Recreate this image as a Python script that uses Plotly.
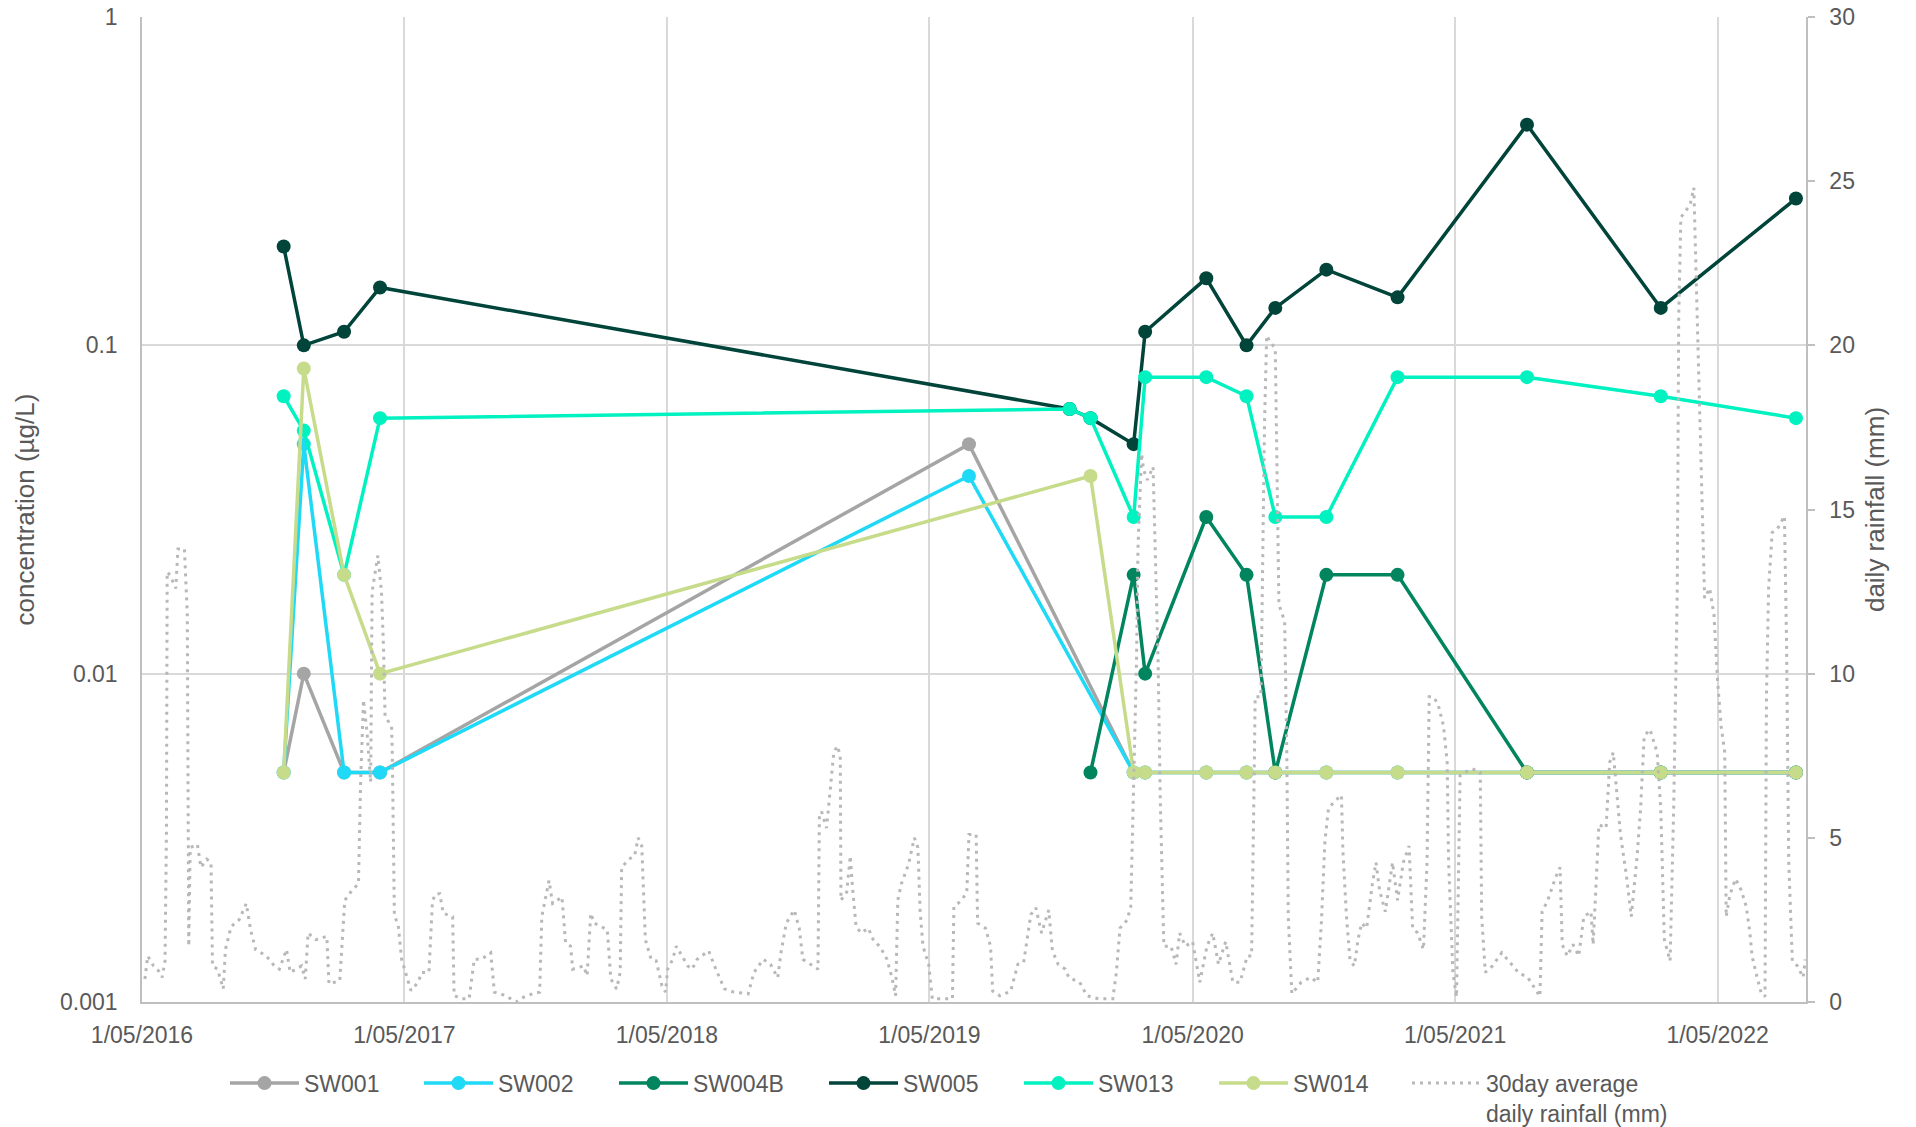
import pandas as pd
import plotly.graph_objects as go

# ---------------- data ----------------
SAMPLE_DATES = ["2016-11-14", "2016-12-12", "2017-02-06", "2017-03-28", "2019-06-25",
                "2019-11-12", "2019-12-11", "2020-02-09", "2020-02-25", "2020-05-20",
                "2020-07-15", "2020-08-24", "2020-11-03", "2021-02-10", "2021-08-09",
                "2022-02-11", "2022-08-18"]

SW001 = [0.005, 0.01, 0.005, 0.005, 0.05, None, None, 0.005, 0.005, 0.005,
         0.005, 0.005, 0.005, 0.005, 0.005, 0.005, 0.005]
SW002 = [0.005, 0.05, 0.005, 0.005, 0.04, None, None, 0.005, 0.005, 0.005,
         0.005, 0.005, 0.005, 0.005, 0.005, 0.005, 0.005]
SW004B = [None, None, None, None, None, None, 0.005, 0.02, 0.01, 0.03,
          0.02, 0.005, 0.02, 0.02, 0.005, 0.005, 0.005]
SW005 = [0.2, 0.1, 0.11, 0.15, None, 0.064, 0.06, 0.05, 0.11, 0.16,
         0.1, 0.13, 0.17, 0.14, 0.47, 0.13, 0.28]
SW013 = [0.07, 0.055, 0.02, 0.06, None, 0.064, 0.06, 0.03, 0.08, 0.08,
         0.07, 0.03, 0.03, 0.08, 0.08, 0.07, 0.06]
SW014 = [0.005, 0.085, 0.02, 0.01, None, None, 0.04, 0.005, 0.005, 0.005,
         0.005, 0.005, 0.005, 0.005, 0.005, 0.005, 0.005]

SERIES_NAMES = ["SW001", "SW002", "SW004B", "SW005", "SW013", "SW014"]
SERIES_COLORS = ["#A5A5A5", "#20D9F7", "#00855F", "#00443A", "#00F2C1", "#C6DC8A"]

# 30 day average daily rainfall (mm): day offset from RAIN_START, value
RAIN_START = "2016-05-01"
RAIN_DAY = [4, 8, 16, 23, 28, 32, 34, 35, 39, 47, 50, 59, 63, 65, 67, 77, 82, 90, 96, 98,
            105, 113, 116, 124, 135, 145, 151, 158, 173, 184, 191, 201, 206, 222, 227, 231,
            242, 257, 260, 275, 282, 292, 301, 304, 308, 313, 318, 320, 328, 333, 336, 338,
            347, 348, 351, 356, 361, 368, 374, 384, 389, 399, 404, 409, 414, 419, 432, 434,
            444, 455, 462, 472, 485, 490, 505, 520, 531, 543, 553, 556, 566, 571, 584, 589,
            596, 599, 614, 619, 624, 629, 647, 652, 660, 665, 667, 677, 685, 690, 695, 700,
            708, 715, 723, 728, 731, 738, 743, 759,
            765, 772, 788, 798, 810, 823, 843, 851, 864, 874, 884, 889, 896, 907, 914, 919,
            929, 940, 942, 945, 952, 962, 967, 971, 972, 980, 985, 988, 993, 1000, 1010,
            1018, 1026, 1036, 1043, 1048, 1051, 1056, 1066, 1074, 1079, 1082, 1086, 1094,
            1099, 1112, 1127, 1129, 1140, 1147, 1150, 1160, 1162, 1173, 1180, 1183, 1193,
            1208, 1218, 1226, 1236, 1243, 1251, 1261, 1266, 1274, 1284, 1289, 1304, 1314,
            1330, 1350, 1355, 1360, 1370, 1375, 1380, 1383, 1385, 1390, 1393, 1398, 1406,
            1413, 1416, 1421, 1431, 1438, 1443, 1451, 1461, 1471, 1481, 1489, 1497, 1507,
            1517, 1527, 1537,
            1543, 1546, 1548, 1556, 1561, 1564, 1569, 1576, 1579, 1581, 1589, 1592, 1594,
            1599, 1612, 1625, 1635, 1640, 1645, 1650, 1658, 1668, 1670, 1675, 1680, 1686,
            1691, 1696, 1703, 1711, 1716, 1721, 1729, 1739, 1746, 1754, 1762, 1767, 1774,
            1782, 1787, 1790, 1795, 1802, 1810, 1815, 1817, 1823, 1828, 1833, 1840, 1850,
            1861, 1863, 1868, 1878, 1891, 1901, 1914, 1927, 1937, 1944, 1947, 1955, 1965,
            1972, 1975, 1982, 1990, 1998, 2005, 2015, 2018, 2026, 2036, 2041, 2046, 2051,
            2056, 2064, 2071, 2079, 2084, 2089, 2097, 2107, 2112, 2117, 2125, 2130, 2135,
            2137, 2140, 2147, 2153, 2158, 2163, 2168, 2173, 2180, 2186, 2191, 2196, 2201,
            2203, 2208, 2216, 2224, 2231, 2236, 2239, 2246, 2252, 2257, 2259, 2262, 2267,
            2274, 2284, 2287, 2290, 2295, 2302, 2310, 2313]
RAIN_MM = [0.7, 1.4, 1.1, 0.95, 0.75, 1.26, 5.2, 13.1, 13.0, 12.6, 13.8, 13.8, 11.8, 1.7, 4.7,
           4.8, 4.1, 4.35, 4.25, 1.1, 1.0, 0.4, 1.6, 2.3, 2.5, 3.0, 2.2, 1.6, 1.4, 1.1, 1.0,
           1.6, 0.9, 1.1, 0.7, 2.1, 1.9, 2.0, 0.55, 0.65, 3.1, 3.4, 3.6, 6.7, 9.2, 8.2, 6.7,
           12.5, 13.6, 12.5, 10.7, 8.7, 8.4, 7.7, 2.6, 2.4, 1.3, 0.8, 0.35, 0.6, 0.9, 0.9,
           3.1, 3.3, 3.3, 2.7, 2.6, 0.2, 0.1, 0.1, 1.3, 1.3, 1.5, 0.3, 0.2, 0.0, 0.15, 0.25,
           0.3, 2.6, 3.7, 3.0, 3.2, 1.8, 1.7, 1.0, 1.1, 0.8, 2.7, 2.4, 2.2, 0.7, 0.4, 0.9,
           4.1, 4.35, 4.45, 5.0, 4.75, 1.9, 1.3, 1.26, 0.5, 0.3, 1.0, 1.3, 1.7, 1.1,
           1.0, 1.3, 1.56, 1.0, 0.4, 0.3, 0.25, 0.9, 1.3, 1.15, 0.74, 1.56, 2.4, 2.8, 2.25,
           1.3, 1.15, 1.0, 5.7, 5.8, 5.3, 7.6, 7.8, 7.5, 3.1, 3.35, 4.45, 3.5, 2.3, 2.1,
           2.25, 1.84, 1.7, 1.3, 0.74, 0.19, 3.1, 3.6, 4.2, 5.0, 4.7, 2.8, 1.7, 1.15, 0.1,
           0.1, 0.1, 2.9, 3.1, 3.35, 5.1, 5.1, 2.4, 2.25, 1.7, 0.33, 0.19, 0.33, 1.15, 1.2,
           2.66, 2.87, 2.1, 2.8, 1.56, 1.15, 1.0, 0.74, 0.6, 0.19, 0.1, 0.1, 0.9, 2.25, 2.5,
           2.9, 7.1, 10.4, 13.8, 16.7, 16.2, 15.9, 16.3, 10.4, 6.2, 1.7, 1.7, 1.15, 2.1, 1.7,
           1.84, 0.6, 1.7, 2.1, 1.15, 1.84, 0.6, 0.6, 1.4,
           1.4, 5.9, 9.3, 9.3, 17.6, 20.3, 20.1, 19.9, 15.9, 12.1, 11.6, 7.6, 2.6, 0.25, 0.6,
           0.75, 0.6, 2.4, 4.9, 5.9, 6.1, 6.3, 4.6, 2.6, 1.25, 1.1, 1.9, 2.4, 2.25, 3.6, 4.25,
           3.4, 2.75, 4.25, 3.1, 4.25, 4.75, 2.25, 2.1, 1.6, 4.25, 9.3, 9.3, 9.1, 8.4, 7.3,
           4.25, 0.9, 0.15, 6.9, 7.0, 7.1, 7.0, 2.6, 0.9, 1.1, 1.5, 1.25, 0.9, 0.75, 0.4,
           0.17, 2.75, 3.1, 3.75, 4.1, 1.75, 1.4, 1.75, 1.4, 2.6, 2.75, 1.75, 5.4, 5.3, 7.3,
           7.6, 6.3, 5.1, 3.9, 2.6, 4.4, 5.9, 8.1, 8.3, 7.6, 5.9, 1.9, 1.25, 5.9, 12.6, 20.9,
           23.9, 24.1, 24.3, 24.8, 20.9, 16.6, 12.3, 12.6, 11.8, 9.8, 8.4, 7.6, 2.6, 3.25,
           3.75, 3.4, 2.9, 2.1, 1.4, 0.75, 0.25, 0.17, 9.3, 12.6, 14.3, 14.4, 14.8, 10.9,
           4.25, 1.25, 1.1, 0.75, 1.3]
RAIN_NAME = "30day average<br>daily rainfall (mm)"
RAIN_COLOR = "#B8B8B8"

X_TICK_DATES = ["2016-05-01", "2017-05-01", "2018-05-01", "2019-05-01",
                "2020-05-01", "2021-05-01", "2022-05-01"]
X_TICK_TEXT = ["1/05/2016", "1/05/2017", "1/05/2018", "1/05/2019",
               "1/05/2020", "1/05/2021", "1/05/2022"]
X_RANGE = ["2016-05-01", "2022-09-01"]
Y_TICKS = [0.001, 0.01, 0.1, 1]
Y_TICK_TEXT = ["0.001", "0.01", "0.1", "1"]
Y2_TICKS = [0, 5, 10, 15, 20, 25, 30]

# ---------------- figure ----------------
FONT = "Liberation Sans, Arial, sans-serif"
TXT = "#595959"
W, H = 1916, 1127

rain_dates = pd.Timestamp(RAIN_START) + pd.to_timedelta(RAIN_DAY, unit="D")
sample_dates = pd.to_datetime(SAMPLE_DATES)

series_values = [SW001, SW002, SW004B, SW005, SW013, SW014]

# left edge (px) of each legend entry, one legend box per entry
LEGEND_LEFT_PX = [225, 419, 614, 824, 1019, 1214, 1407]
legend_ids = ["legend"] + ["legend%d" % i for i in range(2, 8)]

fig = go.Figure()
for i, (name, vals, col) in enumerate(zip(SERIES_NAMES, series_values, SERIES_COLORS)):
    fig.add_trace(go.Scatter(
        x=sample_dates, y=vals, name=name, mode="lines+markers",
        connectgaps=True,
        line=dict(color=col, width=3.5),
        marker=dict(color=col, size=14),
        yaxis="y", legend=legend_ids[i],
    ))

fig.add_trace(go.Scatter(
    x=rain_dates, y=RAIN_MM, name=RAIN_NAME, mode="lines",
    line=dict(color=RAIN_COLOR, width=3, dash="3px,5px"),
    yaxis="y2", legend=legend_ids[6],
))

legend_layout = {}
for lid, left in zip(legend_ids, LEGEND_LEFT_PX):
    legend_layout[lid] = dict(
        orientation="h", xref="container", yref="container",
        x=left / W, xanchor="left", y=0.058, yanchor="top",
        font=dict(size=23, color=TXT), itemwidth=69, valign="top",
        bgcolor="rgba(0,0,0,0)",
    )

fig.update_layout(
    width=W, height=H,
    margin=dict(l=142, r=110, t=17, b=125),
    paper_bgcolor="white", plot_bgcolor="white",
    font=dict(family=FONT, color=TXT, size=23),
    showlegend=True,
    **legend_layout,
    xaxis=dict(
        type="date", range=X_RANGE, automargin=False,
        tickmode="array", tickvals=X_TICK_DATES, ticktext=X_TICK_TEXT,
        showgrid=True, gridcolor="#D9D9D9", gridwidth=1.5,
        showline=True, linecolor="#BFBFBF", linewidth=1.5,
        ticks="", ticklabelstandoff=12,
        tickfont=dict(size=23, color=TXT),
        zeroline=False,
    ),
    yaxis=dict(
        type="log", range=[-3, 0], automargin=False,
        tickmode="array", tickvals=Y_TICKS, ticktext=Y_TICK_TEXT,
        showgrid=True, gridcolor="#D9D9D9", gridwidth=1.5,
        showline=True, linecolor="#BFBFBF", linewidth=1.5,
        ticks="", ticklabelstandoff=18,
        tickfont=dict(size=23, color=TXT),
        title=dict(text="concentration (µg/L)", font=dict(size=26, color=TXT), standoff=18),
        zeroline=False,
    ),
    yaxis2=dict(
        overlaying="y", side="right", range=[0, 30], automargin=False,
        tickmode="array", tickvals=Y2_TICKS,
        showgrid=False, showline=True, linecolor="#BFBFBF", linewidth=1.5,
        ticks="outside", ticklen=7, tickcolor="#BFBFBF", tickwidth=1.5,
        ticklabelstandoff=10,
        tickfont=dict(size=23, color=TXT),
        title=dict(text="daily rainfall (mm)", font=dict(size=26, color=TXT), standoff=12),
        zeroline=False,
    ),
)

fig.write_html("out.html")
